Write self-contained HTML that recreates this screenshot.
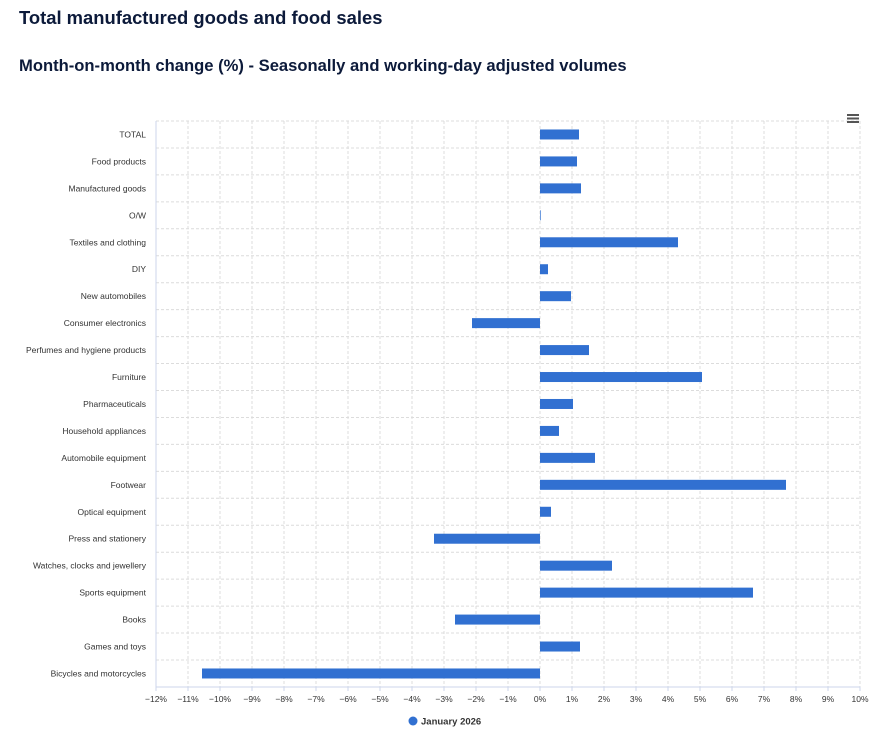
<!DOCTYPE html>
<html><head><meta charset="utf-8"><style>
body{margin:0;background:#fff;font-family:"Liberation Sans",sans-serif;}
.t1{position:absolute;left:19px;top:7px;font-size:18.4px;font-weight:bold;color:#0c1a3a;}
.t2{position:absolute;left:19px;top:56px;font-size:16.6px;font-weight:bold;color:#0c1a3a;}
</style></head><body>
<div class="t1">Total manufactured goods and food sales</div>
<div class="t2">Month-on-month change (%) - Seasonally and working-day adjusted volumes</div>
<svg width="895" height="741" style="position:absolute;left:0;top:0" font-family="Liberation Sans, sans-serif">
<g id="g"></g>
<g fill="#555" transform="translate(847,114)"><rect width="12" height="2"/><rect y="3.5" width="12" height="2"/><rect y="7" width="12" height="2"/></g>
<circle cx="413" cy="721" r="4.5" fill="#3170d1"/>
<text x="421" y="724.5" font-size="9.5" font-weight="bold" fill="#333">January 2026</text>
</svg>
<script>
(function(){
var labels=["TOTAL","Food products","Manufactured goods","O/W","Textiles and clothing","DIY","New automobiles","Consumer electronics","Perfumes and hygiene products","Furniture","Pharmaceuticals","Household appliances","Automobile equipment","Footwear","Optical equipment","Press and stationery","Watches, clocks and jewellery","Sports equipment","Books","Games and toys","Bicycles and motorcycles"];
var ends=[579,577,581,540.7,678,548,571,472,589,702,573,559,595,786,551,434,612,753,455,580,202];
var s="",T=121,H=26.95,B=T+21*H;
for(var i=0;i<=22;i++){var x=156+i*32;
 if(i>0)s+='<line x1="'+x+'" y1="'+T+'" x2="'+x+'" y2="'+B+'" stroke="#dcdcdc" stroke-dasharray="3,2"/>';
 var v=i-12;s+='<text x="'+x+'" y="'+(B+15)+'" font-size="8.5" fill="#333" text-anchor="middle">'+(v<0?'\u2212'+(-v):v)+'%</text>';
 s+='<line x1="'+x+'" y1="'+B+'" x2="'+x+'" y2="'+(B+4)+'" stroke="#ccd6eb"/>';}
for(var j=0;j<21;j++){var y=T+j*H;
 s+='<line x1="156" y1="'+y+'" x2="860" y2="'+y+'" stroke="#dcdcdc" stroke-dasharray="3,2"/>';
 var c=y+H/2;s+='<text x="146" y="'+(c+3)+'" font-size="8.5" fill="#333" text-anchor="end">'+labels[j]+'</text>';
 var a=Math.min(540,ends[j]),b=Math.max(540,ends[j]);
 s+='<rect x="'+a+'" y="'+(c-5)+'" width="'+(b-a)+'" height="10" fill="#3170d1"/>';}
s+='<line x1="156" y1="'+T+'" x2="156" y2="'+B+'" stroke="#ccd6eb"/><line x1="156" y1="'+B+'" x2="860" y2="'+B+'" stroke="#ccd6eb"/>';
document.getElementById("g").innerHTML=s;
})();
</script>
</body></html>
